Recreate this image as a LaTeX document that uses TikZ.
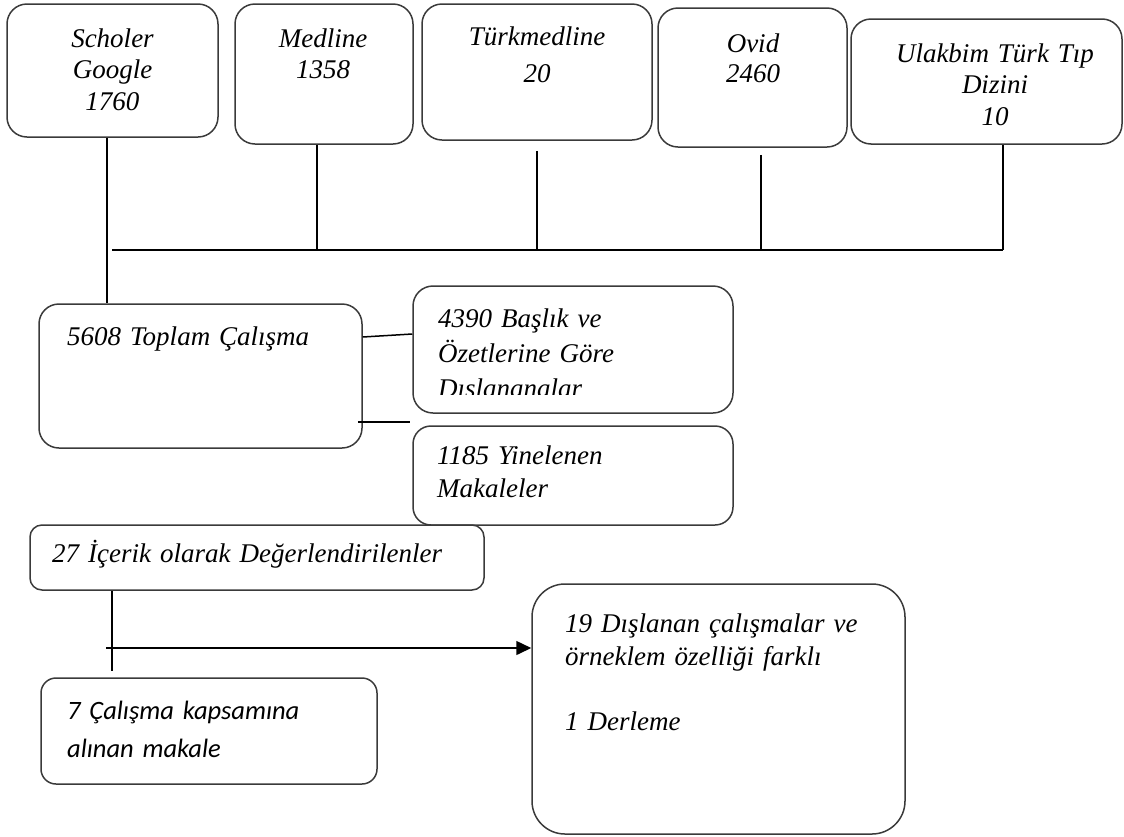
\documentclass[tikz,border=0pt]{standalone}
\usepackage{fontspec}
\setmainfont{Liberation Serif}[WordSpace=0.6]
\newfontfamily\calibfont{Carlito}
\usetikzlibrary{arrows.meta}
\definecolor{boxc}{HTML}{3A3A3A}
\tikzset{
  bx/.style n args={3}{draw=boxc, line width=1.5pt, rounded corners=#1, minimum width=#2, minimum height=#3, inner sep=0pt},
  ln/.style={draw=black, line width=1.5pt},
  tc/.style 2 args={font=\fontsize{27pt}{#1}\selectfont\itshape, inner sep=0pt, text width=#2, align=center, anchor=base},
  tl/.style 2 args={font=\fontsize{27pt}{#1}\selectfont\itshape, inner sep=0pt, text width=#2, align=left, anchor=base west},
  tlc/.style 2 args={font=\calibfont\fontsize{26.5pt}{#1}\selectfont\itshape, inner sep=0pt, text width=#2, align=left, anchor=base west},
}
\begin{document}
\begin{tikzpicture}[x=1pt,y=-1pt]
\useasboundingbox (0,0) rectangle (1124,836);
% boxes
\node[bx={20pt}{211pt}{133pt}] (sch) at (112.5,70.5) {};
\node[bx={20pt}{178pt}{140pt}] (med) at (324,74) {};
\node[bx={20pt}{230pt}{136pt}] (tm) at (537,72) {};
\node[bx={20pt}{189pt}{139pt}] (ovid) at (752.5,77.5) {};
\node[bx={20pt}{271pt}{125pt}] (ulak) at (986.5,81.5) {};
\node[bx={20pt}{323pt}{144pt}] (top) at (200.5,376) {};
\node[bx={20pt}{320pt}{127pt}] (exc) at (573,349.5) {};
\node[bx={18pt}{320pt}{99pt}] (dup) at (573,475.5) {};
\node[bx={12pt}{454pt}{65pt}] (con) at (257,557.5) {};
\node[bx={15pt}{336pt}{106pt}] (inc) at (209,731) {};
\node[bx={33pt}{373pt}{250pt}] (oth) at (718.5,709) {};
% texts
\node[tc={31.5pt}{200pt}] (tsch) at (112.5,47) {Scholer\\Google\\1760};
\node[tc={31pt}{170pt}] (tmed) at (323,47) {Medline\\1358};
\node[tc={37pt}{220pt}] (ttm) at (537,45) {Türkmedline\\20};
\node[tc={30pt}{180pt}] (tov) at (753,52) {Ovid\\2460};
\node[tc={31.5pt}{260pt}] (tul) at (995,62) {Ulakbim Türk Tıp\\Dizini\\10};
\node[tl={31pt}{280pt}] (ttop) at (67,345) {5608 Toplam Çalışma};
\begin{scope}
\clip (405,280) rectangle (740,394);
\node[tl={35pt}{290pt}] (texc) at (438,327) {4390 Başlık ve\\Özetlerine Göre\\Dışlananalar};
\end{scope}
\node[tl={33pt}{290pt}] (tdup) at (437,464) {1185 Yinelenen\\Makaleler};
\node[tl={31pt}{430pt}] (tcon) at (52,562) {27 İçerik olarak Değerlendirilenler};
\node[tlc={38pt}{300pt}] (tinc) at (67,719) {7 Çalışma kapsamına\\alınan makale};
\node[tl={33pt}{330pt}] (toth) at (565,632) {19 Dışlanan çalışmalar ve\\örneklem özelliği farklı\\[32pt]1 Derleme};
% connectors
\coordinate (busL) at (112,250);
\coordinate (busR) at ([xshift=16.5pt]ulak.south |- busL);
\draw[ln] (busL) -- (busR);
\draw[ln] ([xshift=-5.5pt]sch.south) -- ([xshift=-5.5pt]sch.south |- top.north);
\draw[ln] ([xshift=-7pt]med.south) -- ([xshift=-7pt]med.south |- busL);
\draw[ln, shorten <=10pt] (tm.south) -- (tm.south |- busL);
\draw[ln, shorten <=7pt] ([xshift=8.5pt]ovid.south) -- ([xshift=8.5pt]ovid.south |- busL);
\draw[ln] ([xshift=16.5pt]ulak.south) -- (busR);
\draw[ln] ([yshift=39pt]top.east) -- ([yshift=15.5pt]exc.west);
\coordinate (c2) at (410,422);
\draw[ln] ([xshift=-5pt,yshift=-46pt]top.east) -- (c2);
\draw[ln, shorten >=6pt] ([xshift=-145pt]con.south) -- ([xshift=-145pt]con.south |- inc.north);
\coordinate (a0) at (106,648);
\draw[ln, -{Triangle[length=15pt,width=14pt]}] (a0) -- ([yshift=61pt]oth.west);
\end{tikzpicture}
\end{document}
